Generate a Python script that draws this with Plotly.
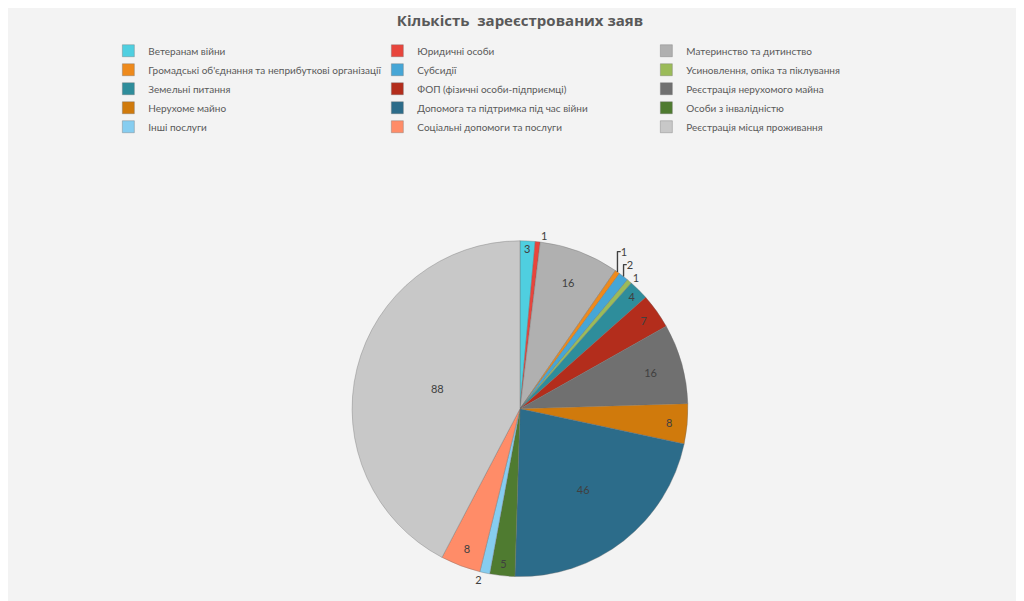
import plotly.graph_objects as go

categories = [
    "Ветеранам війни",
    "Юридичні особи",
    "Материнство та дитинство",
    "Громадські об'єднання та неприбуткові організації",
    "Субсидії",
    "Усиновлення, опіка та піклування",
    "Земельні питання",
    "ФОП (фізичні особи-підприємці)",
    "Реєстрація нерухомого майна",
    "Нерухоме майно",
    "Допомога та підтримка під час війни",
    "Особи з інвалідністю",
    "Інші послуги",
    "Соціальні допомоги та послуги",
    "Реєстрація місця проживання",
]
counts = [3, 1, 16, 1, 2, 1, 4, 7, 16, 8, 46, 5, 2, 8, 88]

colors = [
    "#4fcfe0", "#e8453c", "#b0b0b0", "#ee8a1c", "#46a6d6",
    "#9bbb59", "#2e8d9b", "#b32d1c", "#707070", "#d07a0c",
    "#2c6c8a", "#4f7b30", "#86cdf0", "#ff8c68", "#c8c8c8",
]
# small slices get their labels outside, like the original
text_pos = ["inside" if c >= 3 else "outside" for c in counts]

fig = go.Figure()
fig.add_trace(go.Pie(
    labels=categories,
    values=counts,
    sort=False,
    direction="clockwise",
    rotation=0,
    marker={"colors": colors, "line": {"color": "rgba(110,110,110,0.6)", "width": 0.6}},
    textinfo="value",
    textposition=text_pos,
    textfont={"size": 11, "color": "#404040"},
    insidetextorientation="horizontal",
    domain={"x": [0.15, 0.85], "y": [0.05, 0.8]},
))

fig.update_layout(
    width=1024,
    height=601,
    paper_bgcolor="#f3f3f3",
    plot_bgcolor="#f3f3f3",
    font={"family": "Lato, Open Sans, sans-serif", "color": "#595959"},
    margin={"l": 10, "r": 10, "t": 10, "b": 10},
    title={
        "text": "<b>Кількість  зареєстрованих заяв</b>",
        "x": 0.5,
        "xanchor": "center",
        "y": 0.978,
        "yanchor": "middle",
        "font": {"size": 15, "color": "#595959", "family": "Open Sans, sans-serif"},
    },
    legend={
        "orientation": "h",
        "xref": "container",
        "yref": "container",
        "x": 0.098,
        "y": 0.953,
        "xanchor": "left",
        "yanchor": "top",
        "itemwidth": 30,
        "entrywidth": 224,
        "entrywidthmode": "pixels",
        "traceorder": "normal",
        "tracegroupgap": 0,
        "font": {"size": 10, "color": "#595959"},
        "bgcolor": "rgba(0,0,0,0)",
    },
)

fig.write_html("out.html")
